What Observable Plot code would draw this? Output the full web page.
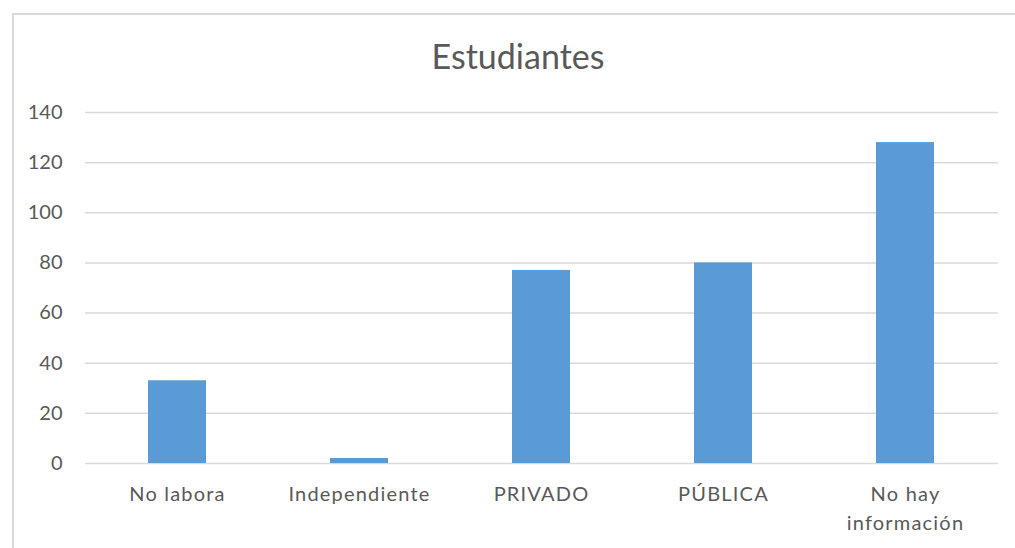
<!DOCTYPE html>
<html>
<head>
<meta charset="utf-8">
<script src="https://cdn.jsdelivr.net/npm/d3@7"></script>
<script src="https://cdn.jsdelivr.net/npm/@observablehq/plot@0.6"></script>
<style>
  html, body { margin: 0; padding: 0; background: #fff; width: 1015px; height: 548px; overflow: hidden; }
  #frame { position: absolute; left: 12px; top: 13px; width: 1010px; height: 545px; border: 2px solid #d9d9d9; box-sizing: border-box; }
  #title { position: absolute; left: 0; top: 35px; width: 1036px; text-align: center; font-family: Lato, "Open Sans", sans-serif; font-size: 34px; color: #595959; }
  #chart { position: absolute; left: 0; top: 90px; }
  g[aria-label="x-axis tick label"] text { letter-spacing: 1.2px; }
</style>
</head>
<body>
<div id="frame"></div>
<div id="title">Estudiantes</div>
<div id="chart"></div>
<script>
const categories = ["No labora", "Independiente", "PRIVADO", "PÚBLICA", "No hay\ninformación"];
const values = [33, 2, 77, 80, 128];
const yTicks = [0, 20, 40, 60, 80, 100, 120, 140];

const data = categories.map((c, i) => ({category: c, value: values[i]}));

const chart = Plot.plot({
  width: 1015,
  height: 458,
  marginLeft: 85,
  marginRight: 17,
  marginTop: 22,
  marginBottom: 85,
  style: {fontFamily: "Lato, 'Open Sans', sans-serif", fontSize: "20px", color: "#595959", background: "transparent"},
  x: {domain: categories, paddingInner: 0.68, paddingOuter: 0.34, label: null},
  y: {domain: [0, 140], ticks: yTicks, label: null},
  marks: [
    Plot.ruleY(yTicks, {stroke: "#d9d9d9", strokeWidth: 1.5}),
    Plot.barY(data, {x: "category", y: "value", fill: "#5b9bd5"}),
    Plot.axisY({ticks: yTicks, tickSize: 0, tickPadding: 23, label: null, fill: "#595959", fontSize: 20}),
    Plot.axisX({tickSize: 0, tickPadding: 17, label: null, fill: "#595959", fontSize: 20, lineHeight: 1.45})
  ]
});
document.getElementById("chart").appendChild(chart);
</script>
</body>
</html>
